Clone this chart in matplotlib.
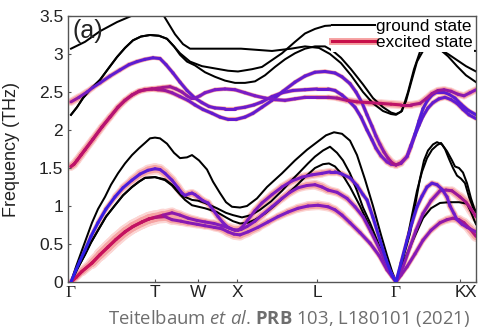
import numpy as np
import matplotlib
matplotlib.use('Agg')
import matplotlib.pyplot as plt
from matplotlib.collections import LineCollection
from matplotlib.colors import LinearSegmentedColormap
from matplotlib.lines import Line2D
import matplotlib.patheffects as pe

plt.rcParams['font.family'] = ['Liberation Sans', 'DejaVu Sans']
plt.rcParams['mathtext.fontset'] = 'custom'
plt.rcParams['mathtext.rm'] = 'Open Sans'
plt.rcParams['mathtext.it'] = 'Open Sans:italic'
plt.rcParams['mathtext.bf'] = 'Open Sans:bold'

# path through the Brillouin zone
k_ticks = [0, 84, 127, 166, 246, 325, 389, 405]
k_labels = ['Γ', 'T', 'W', 'X', 'L', 'Γ', 'K', 'X']

# ---- ground state bands (k, THz) ----
g_a = [(0, 3.07), (14, 3.16), (29, 3.3), (46, 3.42), (62, 3.51), (75, 3.62), (84, 3.64), (92, 3.52),
       (104, 3.26), (112, 3.13), (119, 3.07), (140, 3.07), (170, 3.07), (201, 3.04), (220, 3.07),
       (234, 3.1), (248, 3.08), (259, 3.0), (270, 2.88), (280, 2.72), (292, 2.5), (302, 2.35),
       (312, 2.25), (320, 2.21), (325, 2.2), (331, 2.25), (337, 2.5), (343, 2.8), (349, 3.03),
       (356, 3.08), (369, 3.06), (377, 2.97), (386, 2.84), (395, 2.72), (405, 2.63)]
g_b = [(0, 2.2), (6, 2.3), (12, 2.42), (19, 2.53), (29, 2.66), (38, 2.82), (46, 2.96), (54, 3.08),
       (62, 3.18), (70, 3.23), (79, 3.25), (88, 3.24), (96, 3.2), (103, 3.1), (109, 3.01), (119, 2.9),
       (131, 2.84), (144, 2.81), (157, 2.78), (167, 2.77), (181, 2.8), (191, 2.83), (201, 2.92),
       (211, 3.01), (224, 3.16), (234, 3.27), (244, 3.33), (254, 3.37), (266, 3.38), (280, 3.3),
       (292, 3.15), (302, 3.08), (320, 3.07), (350, 3.07), (375, 3.06), (405, 3.04)]
g_c = [(0, 2.2), (6, 2.3), (12, 2.42), (19, 2.53), (29, 2.66), (38, 2.82), (46, 2.96), (54, 3.08),
       (62, 3.18), (70, 3.23), (79, 3.25), (88, 3.24), (96, 3.2), (103, 3.1), (109, 2.99), (116, 2.9),
       (124, 2.85), (134, 2.76), (144, 2.7), (154, 2.65), (164, 2.62), (174, 2.62), (184, 2.64),
       (194, 2.72), (204, 2.83), (214, 2.93), (224, 3.01), (234, 3.07), (244, 3.1), (254, 3.1),
       (262, 3.04), (270, 2.95), (280, 2.8), (292, 2.6), (302, 2.42), (312, 2.3), (320, 2.23),
       (325, 2.21), (330, 2.24), (335, 2.38), (340, 2.62), (346, 2.9), (352, 3.04), (360, 3.07),
       (369, 3.06), (377, 3.0), (386, 2.92), (395, 2.84), (405, 2.77)]
b_a = [(0, 0), (5, 0.2), (11, 0.42), (16, 0.6), (21, 0.78), (27, 0.96), (34, 1.12), (40, 1.28),
       (47, 1.43), (54, 1.56), (61, 1.67), (68, 1.76), (74, 1.83), (79, 1.89), (84, 1.9), (89, 1.89),
       (96, 1.82), (103, 1.7), (109, 1.63), (116, 1.64), (121, 1.67), (128, 1.6), (136, 1.48),
       (142, 1.32), (149, 1.17), (155, 1.05), (161, 0.99), (169, 0.98), (176, 1.0), (186, 1.1),
       (196, 1.25), (211, 1.43), (224, 1.6), (236, 1.74), (246, 1.84), (255, 1.93), (263, 1.97),
       (271, 1.95), (279, 1.86), (286, 1.67), (294, 1.35), (302, 1.0), (310, 0.62), (316, 0.35),
       (321, 0.14), (325, 0)]
b_b = [(0, 0), (7, 0.19), (14, 0.36), (20, 0.52), (27, 0.68), (35, 0.86), (44, 1.01), (52, 1.14),
       (61, 1.25), (68, 1.32), (74, 1.37), (84, 1.38), (94, 1.34), (101, 1.27), (107, 1.18),
       (114, 1.08), (121, 1.01), (134, 0.97), (146, 0.92), (155, 0.85), (162, 0.8), (169, 0.77),
       (177, 0.78), (184, 0.82), (194, 0.9), (204, 1.01), (214, 1.13), (224, 1.25), (234, 1.38),
       (244, 1.5), (252, 1.55), (258, 1.56), (264, 1.52), (272, 1.4), (279, 1.25), (289, 1.0),
       (299, 0.72), (306, 0.52), (312, 0.33), (318, 0.16), (325, 0)]
b_c = [(0, 0), (7, 0.19), (14, 0.36), (20, 0.52), (27, 0.68), (35, 0.86), (44, 1.01), (52, 1.14),
       (61, 1.25), (68, 1.32), (74, 1.37), (84, 1.38), (94, 1.35), (101, 1.28), (107, 1.2),
       (114, 1.12), (121, 1.08), (127, 1.07), (134, 1.04), (146, 0.97), (155, 0.91), (162, 0.88),
       (171, 0.85), (180, 0.88), (189, 0.95), (200, 1.06), (211, 1.2), (220, 1.33), (229, 1.45),
       (237, 1.56), (244, 1.65), (252, 1.73), (259, 1.78), (266, 1.7), (272, 1.6), (279, 1.43),
       (286, 1.2), (292, 0.98), (299, 0.78), (306, 0.55), (311, 0.38), (316, 0.2), (321, 0.08),
       (325, 0)]
k_1 = [(325, 0), (330, 0.22), (335, 0.45), (339, 0.64), (344, 1.0), (349, 1.36), (353, 1.6),
       (357, 1.73), (362, 1.81), (366, 1.84), (371, 1.81), (376, 1.72), (381, 1.6), (384, 1.52),
       (388, 1.5), (392, 1.44), (396, 1.3), (400, 1.1), (403, 0.98), (405, 0.92)]
k_2 = [(325, 0), (330, 0.25), (336, 0.55), (341, 0.88), (346, 1.2), (351, 1.45), (356, 1.63),
       (361, 1.74), (366, 1.8), (370, 1.83), (374, 1.75), (378, 1.62), (382, 1.5), (386, 1.4),
       (390, 1.36), (394, 1.3), (398, 1.12), (402, 0.98), (405, 0.92)]
k_3 = [(325, 0), (332, 0.25), (342, 0.55), (352, 0.84), (360, 0.97), (369, 1.04), (378, 1.05),
       (388, 1.05), (396, 1.03), (400, 0.92), (403, 0.82), (405, 0.76)]
ground = [g_a, g_b, g_c, b_a, b_b, b_c, k_1, k_2, k_3]

# ---- excited state bands (k, THz) ----
la_1 = [(0, 0), (5, 0.06), (11, 0.14), (21, 0.25), (29, 0.36), (37, 0.46), (45, 0.56), (54, 0.66),
        (62, 0.73), (71, 0.79), (78, 0.83), (84, 0.85), (94, 0.86), (101, 0.82), (110, 0.8),
        (117, 0.78), (126, 0.76), (134, 0.74), (143, 0.72), (151, 0.7), (157, 0.66), (163, 0.63),
        (169, 0.62), (177, 0.66), (187, 0.72), (197, 0.79), (207, 0.86), (217, 0.92), (227, 0.97),
        (237, 1.0), (247, 1.01), (257, 0.99), (264, 0.95), (271, 0.88), (279, 0.78), (289, 0.65),
        (299, 0.51), (308, 0.35), (316, 0.16), (321, 0.07), (325, 0), (330, 0.09), (336, 0.2),
        (344, 0.37), (352, 0.55), (360, 0.68), (369, 0.78), (376, 0.82), (382, 0.84), (388, 0.82),
        (393, 0.78), (399, 0.7), (405, 0.6)]
la_2 = [(0, 0), (5, 0.06), (11, 0.14), (21, 0.25), (29, 0.36), (37, 0.46), (45, 0.56), (54, 0.66),
        (62, 0.73), (71, 0.79), (78, 0.83), (84, 0.85), (92, 0.88), (101, 0.91), (109, 0.88),
        (117, 0.84), (126, 0.81), (134, 0.79), (143, 0.77), (151, 0.74), (158, 0.71), (164, 0.68),
        (170, 0.69), (176, 0.73), (184, 0.8), (191, 0.88), (201, 0.99), (211, 1.1), (219, 1.18),
        (227, 1.24), (236, 1.27), (244, 1.28), (251, 1.25), (257, 1.21), (266, 1.18), (276, 1.1),
        (284, 0.99), (292, 0.86), (300, 0.66), (309, 0.42), (317, 0.2), (325, 0), (332, 0.2),
        (339, 0.46), (345, 0.68), (352, 0.9), (360, 1.07), (369, 1.2), (375, 1.21), (381, 1.2),
        (389, 1.12), (395, 1.05), (400, 0.96), (405, 0.86)]
lo = [(0, 0), (5, 0.16), (9, 0.28), (14, 0.42), (20, 0.6), (27, 0.78), (35, 0.96), (44, 1.12),
      (52, 1.24), (61, 1.34), (69, 1.42), (77, 1.47), (84, 1.49), (89, 1.48), (94, 1.43), (101, 1.34),
      (107, 1.24), (111, 1.17), (114, 1.14), (118, 1.16), (121, 1.17), (124, 1.15), (127, 1.12),
      (132, 1.07), (137, 1.04), (142, 0.95), (147, 0.86), (152, 0.78), (157, 0.72), (162, 0.69),
      (167, 0.68), (171, 0.72), (177, 0.82), (184, 0.94), (191, 1.04), (201, 1.15), (211, 1.25),
      (221, 1.33), (231, 1.38), (241, 1.41), (251, 1.43), (259, 1.45), (264, 1.45), (271, 1.42),
      (279, 1.37), (286, 1.27), (292, 1.15), (296, 1.08), (302, 0.85), (309, 0.55), (315, 0.3),
      (320, 0.12), (325, 0), (330, 0.25), (336, 0.55), (341, 0.78), (346, 0.99), (351, 1.13),
      (356, 1.25), (361, 1.3), (366, 1.28), (371, 1.22), (376, 1.12), (379, 1.0), (383, 0.9),
      (386, 0.82), (391, 0.76), (396, 0.72), (405, 0.66)]
eu_1 = [(0, 2.37), (8, 2.43), (16, 2.5), (22, 2.56), (29, 2.62), (39, 2.71), (49, 2.79), (58, 2.86),
        (66, 2.9), (74, 2.93), (82, 2.95), (89, 2.94), (95, 2.86), (102, 2.75), (109, 2.63),
        (116, 2.52), (124, 2.42), (131, 2.36), (138, 2.31), (144, 2.29), (154, 2.28), (164, 2.28),
        (174, 2.3), (183, 2.33), (191, 2.37), (201, 2.44), (211, 2.49), (222, 2.52), (234, 2.53),
        (246, 2.54), (257, 2.54), (264, 2.52), (271, 2.46), (278, 2.38), (284, 2.3), (290, 2.17),
        (296, 2.0), (301, 1.87), (305, 1.76), (310, 1.66), (316, 1.58), (320, 1.55), (325, 1.54),
        (330, 1.56), (336, 1.65), (340, 1.8), (344, 1.95), (348, 2.12), (352, 2.28), (356, 2.38),
        (361, 2.46), (366, 2.5), (372, 2.5), (378, 2.47), (384, 2.42), (390, 2.34), (397, 2.26),
        (405, 2.2)]
e_opt = [(0, 1.52), (3, 1.55), (6, 1.6), (10, 1.67), (14, 1.74), (22, 1.88), (31, 2.04), (39, 2.17),
         (47, 2.3), (54, 2.39), (61, 2.46), (68, 2.51), (74, 2.53), (81, 2.54), (87, 2.53), (94, 2.52),
         (101, 2.49), (109, 2.44), (117, 2.39), (124, 2.33), (132, 2.27), (141, 2.22), (149, 2.17),
         (157, 2.14), (165, 2.14), (174, 2.17), (182, 2.22), (191, 2.3), (201, 2.39), (212, 2.51),
         (224, 2.63), (234, 2.71), (244, 2.76), (254, 2.77), (264, 2.75), (271, 2.7), (279, 2.61),
         (285, 2.5), (291, 2.36), (296, 2.2), (301, 2.05), (305, 1.92), (309, 1.81), (313, 1.71),
         (317, 1.63), (321, 1.57), (325, 1.54), (330, 1.57), (336, 1.65), (340, 1.78), (344, 1.93),
         (348, 2.06), (352, 2.18), (357, 2.29), (362, 2.36), (368, 2.41), (374, 2.43), (380, 2.4),
         (386, 2.35), (392, 2.27), (398, 2.2), (405, 2.15)]
e_opt2 = [(0, 1.52), (3, 1.55), (6, 1.6), (10, 1.67), (14, 1.74), (22, 1.88), (31, 2.04), (39, 2.17),
          (47, 2.3), (54, 2.39), (61, 2.46), (68, 2.51), (74, 2.53), (81, 2.54), (87, 2.55),
          (92, 2.56), (99, 2.57), (105, 2.54), (111, 2.5), (116, 2.45), (120, 2.42), (124, 2.42),
          (129, 2.45), (134, 2.49), (144, 2.53), (154, 2.54), (164, 2.53), (174, 2.49), (184, 2.45),
          (194, 2.42), (204, 2.4), (214, 2.39), (224, 2.41), (234, 2.43), (246, 2.43), (257, 2.43),
          (266, 2.42), (276, 2.39), (286, 2.37), (298, 2.36), (310, 2.35), (320, 2.34), (330, 2.33),
          (340, 2.33), (349, 2.35), (355, 2.41), (361, 2.48), (367, 2.52), (373, 2.53), (380, 2.51),
          (387, 2.47), (393, 2.45), (399, 2.49), (405, 2.53)]

# colour weight (0 blue .. 1 red) and halo width along k for each excited band
la_style = [(0, 0.95, 2), (30, 0.95, 7), (84, 0.9, 8), (100, 0.6, 5), (140, 0.55, 3), (166, 0.55, 6),
            (200, 0.5, 3), (246, 0.55, 5), (290, 0.5, 2), (325, 0.6, 1), (360, 0.55, 2), (405, 0.8, 6)]
lo_style = [(0, 0.0, 0), (40, 0.1, 2), (80, 0.3, 6), (110, 0.4, 4), (140, 0.45, 3), (166, 0.55, 3),
            (246, 0.5, 4), (300, 0.2, 1), (325, 0.05, 0), (360, 0.3, 2), (405, 0.6, 3)]
eu_style = [(0, 0.7, 4), (25, 0.35, 2), (84, 0.3, 1), (130, 0.4, 1), (246, 0.4, 1), (300, 0.3, 1),
            (325, 0.6, 3), (345, 0.2, 0), (365, 0.35, 2), (405, 0.25, 1)]
opt_style = [(0, 0.9, 4), (40, 0.85, 2), (84, 0.8, 2), (130, 0.35, 1), (246, 0.35, 1), (300, 0.35, 1),
             (325, 0.8, 4), (345, 0.25, 0), (370, 0.4, 2), (405, 0.3, 1)]
opt2_style = [(0, 0.9, 4), (84, 0.8, 2), (130, 0.5, 1), (246, 0.5, 1), (280, 0.85, 3),
              (325, 0.9, 4), (360, 0.7, 3), (405, 0.55, 3)]
excited = [(la_1, la_style), (la_2, la_style), (lo, lo_style), (eu_1, eu_style),
           (e_opt, opt_style), (e_opt2, opt2_style)]

cmap = LinearSegmentedColormap.from_list('exc', ['#2b1de8', '#7a1cc6', '#d0104f'])

fig = plt.figure(figsize=(4.8, 3.3), dpi=100)
ax = fig.add_axes([68 / 480, 48 / 330, 408 / 480, 266 / 330])

for band in ground:
    k, f = zip(*band)
    ax.plot(k, f, color='black', lw=1.45, zorder=2, solid_joinstyle='round')

for band, style in excited:
    k = np.array([p[0] for p in band], float)
    f = np.array([p[1] for p in band], float)
    seg = np.stack([np.column_stack([k[:-1], f[:-1]]), np.column_stack([k[1:], f[1:]])], axis=1)
    km = 0.5 * (k[:-1] + k[1:])
    sk, sw, sh = zip(*style)
    w = np.interp(km, sk, sw)
    h = np.interp(km, sk, sh)
    ax.add_collection(LineCollection(seg, colors='#fcd6d4', linewidths=2.2 + h,
                                     capstyle='round', zorder=1))
    ax.add_collection(LineCollection(seg, colors='#f6a3a3', linewidths=2.2 + 0.55 * h,
                                     capstyle='round', zorder=1.1))
    ax.add_collection(LineCollection(seg, colors=cmap(w), linewidths=2.2,
                                     capstyle='round', zorder=3))

ax.set_xlim(-3, 405)
ax.set_ylim(0, 3.5)
ax.set_xticks(k_ticks)
ax.set_xticklabels(k_labels)
ax.set_yticks(np.arange(0, 3.51, 0.5))
ax.set_yticklabels(['0', '0.5', '1', '1.5', '2', '2.5', '3', '3.5'])
xt = ax.get_xticklabels()
for i, t in enumerate(xt):
    if k_labels[i] == 'Γ':
        t.set_fontfamily(['Liberation Serif', 'DejaVu Serif'])
# last label sits on the right edge; right-align it so it stays inside the figure
xt[-1].set_horizontalalignment('right')
ax.tick_params(axis='both', direction='in', length=2.5, width=0.8, color='#555555',
               labelsize=12.5, labelcolor='#222222')
ax.tick_params(axis='x', pad=2)
ax.tick_params(axis='y', pad=3.5)
for s in ax.spines.values():
    s.set_color('#555555')
    s.set_linewidth(1.0)

ax.set_ylabel('Frequency (THz)', fontsize=13, color='#222222')
ax.yaxis.set_label_coords(-0.118, 0.5)
ax.text(0.01, 0.945, '(a)', transform=ax.transAxes, fontsize=18, va='center', ha='left',
        color='#222222', zorder=6)

h_ground = Line2D([], [], color='black', lw=1.45)
h_exc = Line2D([], [], color='#c8104a', lw=2.2,
               path_effects=[pe.Stroke(linewidth=5, foreground='#f6a3a3'), pe.Normal()])
leg = ax.legend([h_ground, h_exc], ['ground state', 'excited state'], loc='upper right',
                fontsize=12.3, frameon=True, fancybox=False, framealpha=1, edgecolor='none',
                handlelength=2.5, handletextpad=0.05, labelspacing=0.05, borderpad=0.1,
                borderaxespad=0.1)
leg.get_frame().set_linewidth(0)
leg.set_zorder(6)

fig.text(0.602, 0.036, r'Teitelbaum $\it{et\ al}$. $\bf{PRB}$ 103, L180101 (2021)', ha='center',
         va='center', color='#6e6e6e', fontsize=13.3, family='Open Sans')

fig.savefig('out.png', dpi=100)
